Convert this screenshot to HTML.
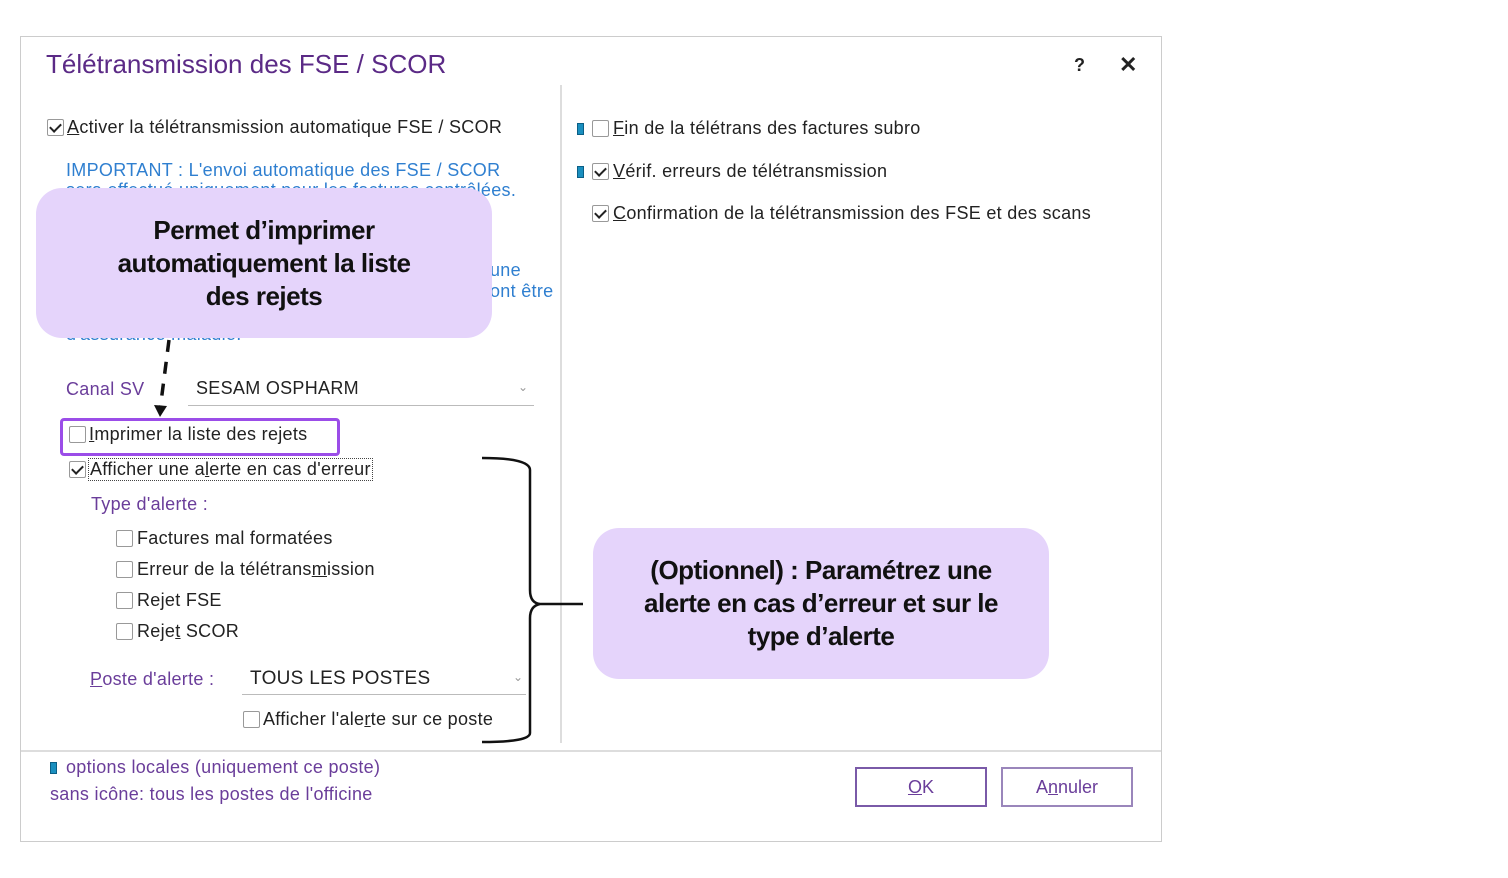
<!DOCTYPE html>
<html><head><meta charset="utf-8"><style>
body{margin:0;width:1508px;height:878px;background:#fff;position:relative;overflow:hidden;font-family:"Liberation Sans",Arial,sans-serif;}
.a{position:absolute;white-space:nowrap;}
.t{font-size:18px;color:#222;letter-spacing:0.3px;}
.p{font-size:18px;color:#6a3d9a;letter-spacing:0.3px;}
.b{font-size:18px;color:#2f7fd0;letter-spacing:0.3px;}
.cb{position:absolute;width:15px;height:15px;border:1px solid #999;border-radius:2px;background:#fff;}
.ck::after{content:"";position:absolute;left:4px;top:1px;width:5px;height:9px;border:solid #222;border-width:0 2px 2px 0;transform:rotate(45deg);}
.ic{position:absolute;width:5px;height:10px;background:#1a8fbf;border:1px solid #0b5f86;}
.call{position:absolute;background:#e5d4fb;border-radius:26px;font-size:26px;font-weight:bold;color:#111;text-align:center;display:flex;align-items:center;justify-content:center;line-height:33px;letter-spacing:-0.5px;}
.btn{position:absolute;height:36px;border:2px solid #7a5aa8;font-size:18px;color:#6a3d9a;text-align:center;line-height:36px;background:#fff;}
</style></head><body>
<div class="a" style="left:20px;top:36px;width:1140px;height:804px;border:1px solid #ccc;"></div>
<div class="a" style="left:46px;top:49px;font-size:26px;color:#5b2a86;">Télétransmission des FSE / SCOR</div>
<div class="a" style="left:1074px;top:55px;font-size:18px;font-weight:bold;color:#222;">?</div>
<div class="a" style="left:1119px;top:52px;font-size:22px;font-weight:bold;color:#222;">✕</div>
<div class="a" style="left:560px;top:85px;width:2px;height:658px;background:#ddd;"></div>
<div class="a" style="left:21px;top:750px;width:1140px;height:2px;background:#ddd;"></div>

<div class="cb ck" style="left:47px;top:119px;"></div>
<div class="a t" style="left:67px;top:117px;"><u>A</u>ctiver la télétransmission automatique FSE / SCOR</div>
<div class="a b" style="left:66px;top:160px;">IMPORTANT : L'envoi automatique des FSE / SCOR</div>
<div class="a b" style="left:66px;top:180px;">sera effectué uniquement pour les factures contrôlées.</div>
<div class="a b" style="left:490px;top:260px;">une</div>
<div class="a b" style="left:490px;top:281px;">ont être</div>
<div class="a b" style="left:66px;top:324px;">d'assurance maladie.</div>

<div class="call" style="left:36px;top:188px;width:456px;height:150px;">Permet d’imprimer<br>automatiquement la liste<br>des rejets</div>

<div class="a p" style="left:66px;top:379px;">Canal SV</div>
<div class="a t" style="left:196px;top:378px;">SESAM OSPHARM</div>
<div class="a" style="left:518px;top:380px;color:#999;font-size:12px;">⌄</div>
<div class="a" style="left:188px;top:405px;width:346px;height:1px;background:#bbb;"></div>

<svg class="a" style="left:0;top:0" width="1508" height="878">
<path d="M169 340 L160 410" stroke="#111" stroke-width="3.5" stroke-dasharray="12,10" fill="none"/>
<path d="M154 405 L167 406 L160 417 Z" fill="#111"/>
<path d="M482 458 Q530 458 530 470 L530 590 Q530 603 540 604 L583 604 M540 604 Q530 606 530 618 L530 733 Q530 742 482 742" stroke="#111" stroke-width="2.5" fill="none"/>
</svg>

<div class="a" style="left:60px;top:418px;width:274px;height:32px;border:3px solid #9b4de8;border-radius:4px;"></div>
<div class="cb" style="left:69px;top:426px;"></div>
<div class="a t" style="left:89px;top:424px;"><u>I</u>mprimer la liste des rejets</div>
<div class="cb ck" style="left:69px;top:461px;"></div>
<div class="a t" style="left:88px;top:458px;border:1px dotted #444;padding:0 1px;">Afficher une a<u>l</u>erte en cas d'erreur</div>
<div class="a p" style="left:91px;top:494px;">Type d'alerte :</div>
<div class="cb" style="left:116px;top:530px;"></div><div class="a t" style="left:137px;top:528px;">Factures mal formatées</div>
<div class="cb" style="left:116px;top:561px;"></div><div class="a t" style="left:137px;top:559px;">Erreur de la télétrans<u>m</u>ission</div>
<div class="cb" style="left:116px;top:592px;"></div><div class="a t" style="left:137px;top:590px;">Rejet FSE</div>
<div class="cb" style="left:116px;top:623px;"></div><div class="a t" style="left:137px;top:621px;">Reje<u>t</u> SCOR</div>
<div class="a p" style="left:90px;top:669px;"><u>P</u>oste d'alerte :</div>
<div class="a t" style="left:250px;top:668px;font-size:19px;">TOUS LES POSTES</div>
<div class="a" style="left:513px;top:670px;color:#999;font-size:12px;">⌄</div>
<div class="a" style="left:242px;top:694px;width:284px;height:1px;background:#bbb;"></div>
<div class="cb" style="left:243px;top:711px;"></div><div class="a t" style="left:263px;top:709px;">Afficher l'ale<u>r</u>te sur ce poste</div>

<div class="ic" style="left:577px;top:123px;"></div>
<div class="cb" style="left:592px;top:120px;"></div><div class="a t" style="left:613px;top:118px;"><u>F</u>in de la télétrans des factures subro</div>
<div class="ic" style="left:577px;top:166px;"></div>
<div class="cb ck" style="left:592px;top:163px;"></div><div class="a t" style="left:613px;top:161px;"><u>V</u>érif. erreurs de télétransmission</div>
<div class="cb ck" style="left:592px;top:205px;"></div><div class="a t" style="left:613px;top:203px;"><u>C</u>onfirmation de la télétransmission des FSE et des scans</div>

<div class="call" style="left:593px;top:528px;width:456px;height:151px;">(Optionnel) : Paramétrez une<br>alerte en cas d’erreur et sur le<br>type d’alerte</div>

<div class="ic" style="left:50px;top:762px;"></div>
<div class="a p" style="left:66px;top:757px;">options locales (uniquement ce poste)</div>
<div class="a p" style="left:50px;top:784px;">sans icône: tous les postes de l'officine</div>
<div class="btn" style="left:855px;top:767px;width:128px;"><u>O</u>K</div>
<div class="btn" style="left:1001px;top:767px;width:128px;border-color:#9a86bb;">A<u>n</u>nuler</div>
</body></html>
